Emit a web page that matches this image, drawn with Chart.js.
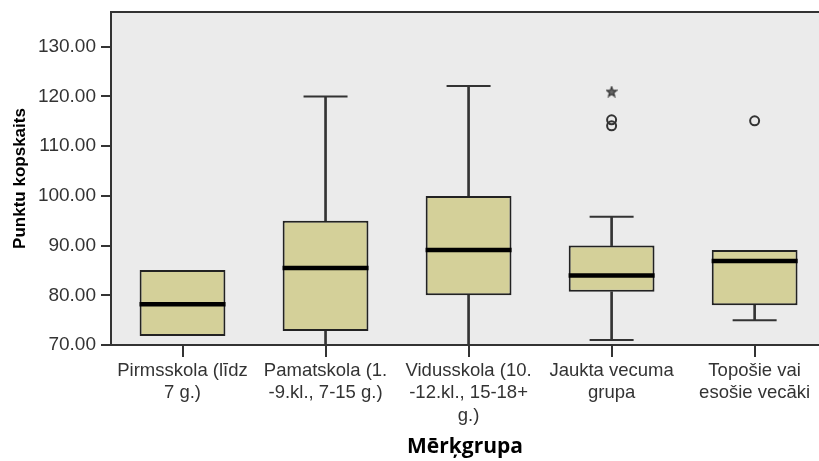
<!DOCTYPE html>
<html><head><meta charset="utf-8">
<script src="https://cdn.jsdelivr.net/npm/chart.js@4"></script>
<style>html,body{margin:0;padding:0;background:#fff}</style>
</head><body>
<canvas id="c" width="819" height="461"></canvas>
<script>
// ---- data ----
const categories = [
  ['Pirmsskola (līdz', '7 g.)'],
  ['Pamatskola (1.', '-9.kl., 7-15 g.)'],
  ['Vidusskola (10.', '-12.kl., 15-18+', 'g.)'],
  ['Jaukta vecuma', 'grupa'],
  ['Topošie vai', 'esošie vecāki']
];
const whiskerLow  = [71.8, 70.0, 70.0, 71.0, 75.0];
const q1          = [71.8, 72.8, 80.0, 80.7, 78.0];
const median      = [78.2, 85.5, 89.1, 84.0, 86.9];
const q3          = [85.1, 95.0, 100.0, 90.0, 89.1];
const whiskerHigh = [85.1, 120.0, 122.1, 95.8, 89.1];
const outlierGroup = [3, 3, 4];
const outlierValue = [115.3, 114.1, 115.1];
const extremeGroup = [3];
const extremeValue = [121.0];
const yTicks = [70, 80, 90, 100, 110, 120, 130];

// ---- chart ----
const idx = categories.map((_, i) => i);
const starImg = (() => {
  const c = document.createElement('canvas'); c.width = 12; c.height = 12;
  const g = c.getContext('2d'); g.beginPath();
  for (let k = 0; k < 10; k++) {
    const r = k % 2 ? 2.2 : 5.2, a = -Math.PI / 2 + k * Math.PI / 5;
    g.lineTo(6 + r * Math.cos(a), 6.5 + r * Math.sin(a));
  }
  g.closePath(); g.fillStyle = '#666'; g.fill();
  g.strokeStyle = '#333'; g.lineWidth = 1.2; g.stroke();
  return c;
})();

const plotBg = {
  id: 'plotBg',
  beforeDraw(chart) {
    const { ctx, chartArea: a } = chart;
    ctx.save(); ctx.fillStyle = '#EBEBEB';
    ctx.fillRect(a.left, a.top, a.right - a.left, a.bottom - a.top);
    ctx.restore();
  }
};

const FONT = '"Liberation Sans", Arial, sans-serif';
const noPad = s => { s.paddingTop = 0; s.paddingBottom = 0; s.paddingLeft = 0; s.paddingRight = 0; };

// whiskers and caps only where a whisker extends beyond the box
const lowIdx = idx.filter(i => whiskerLow[i] < q1[i]);
const highIdx = idx.filter(i => whiskerHigh[i] > q3[i]);
const caps = lowIdx.map(i => ({ x: i, y: whiskerLow[i] }))
  .concat(highIdx.map(i => ({ x: i, y: whiskerHigh[i] })));

new Chart(document.getElementById('c'), {
  type: 'bar',
  data: {
    datasets: [
      { type: 'bar', data: lowIdx.map(i => ({ x: i, y: [whiskerLow[i], q1[i]] })),
        backgroundColor: '#333', barThickness: 2, grouped: false, order: 3 },
      { type: 'bar', data: highIdx.map(i => ({ x: i, y: [q3[i], whiskerHigh[i]] })),
        backgroundColor: '#333', barThickness: 2, grouped: false, order: 3 },
      { type: 'bar', data: idx.map(i => ({ x: i, y: [q1[i], q3[i]] })),
        backgroundColor: '#D4D099', borderColor: '#222', borderWidth: 2, borderSkipped: false,
        barPercentage: 0.6, categoryPercentage: 1, grouped: false, order: 2 },
      { type: 'scatter', data: idx.map(i => ({ x: i, y: median[i] })),
        pointStyle: 'line', radius: 43, borderWidth: 4.5, borderColor: '#000', order: 1 },
      { type: 'scatter', data: caps,
        pointStyle: 'line', radius: 22, borderWidth: 2, borderColor: '#333', order: 1 },
      { type: 'scatter', data: outlierGroup.map((g, k) => ({ x: g, y: outlierValue[k] })),
        pointStyle: 'circle', radius: 4.5, borderWidth: 2, borderColor: '#333', backgroundColor: 'rgba(0,0,0,0)', order: 0 },
      { type: 'scatter', data: extremeGroup.map((g, k) => ({ x: g, y: extremeValue[k] })),
        pointStyle: starImg, order: 0 }
    ]
  },
  options: {
    responsive: false, animation: false,
    layout: { autoPadding: false, padding: { top: 12, left: 0, right: 0, bottom: 0 } },
    plugins: { legend: { display: false }, tooltip: { enabled: false } },
    scales: {
      x: {
        type: 'linear', min: -0.5, max: 4.45, offset: false,
        afterBuildTicks: s => { s.ticks = idx.map(i => ({ value: i })); },
        ticks: { callback: v => categories[v], font: { family: FONT, size: 18.5 }, color: '#333',
                 padding: 3, maxRotation: 0, minRotation: 0, autoSkip: false },
        grid: { offset: false, drawOnChartArea: false, tickLength: 12, color: '#333', lineWidth: 2 },
        border: { color: '#333', width: 2 },
        title: { display: true, text: 'Mērķgrupa', color: '#000',
                 font: { family: '"Open Sans", sans-serif', size: 21, weight: 'bold' }, padding: { top: 0, bottom: 1 } },
        afterFit: s => { s.height = 116; noPad(s); }
      },
      x2: {
        type: 'linear', position: 'top', min: -0.5, max: 4.45,
        ticks: { display: false }, grid: { display: false, drawTicks: false },
        border: { display: true, color: '#333', width: 2 },
        afterFit: s => { s.height = 0; noPad(s); }
      },
      y: {
        min: 70, max: 137,
        afterBuildTicks: s => { s.ticks = yTicks.map(v => ({ value: v })); },
        ticks: { callback: v => Number(v).toFixed(2), font: { family: FONT, size: 19 }, color: '#333', padding: 5 },
        grid: { drawOnChartArea: false, tickLength: 10, color: '#333', lineWidth: 2 },
        border: { color: '#333', width: 2 },
        title: { display: true, text: 'Punktu kopskaits', color: '#000',
                 font: { family: FONT, size: 17, weight: 'bold' }, padding: { top: 10, bottom: 0 } },
        afterFit: s => { s.width = 111; noPad(s); }
      }
    }
  },
  plugins: [plotBg]
});
</script>
</body></html>
